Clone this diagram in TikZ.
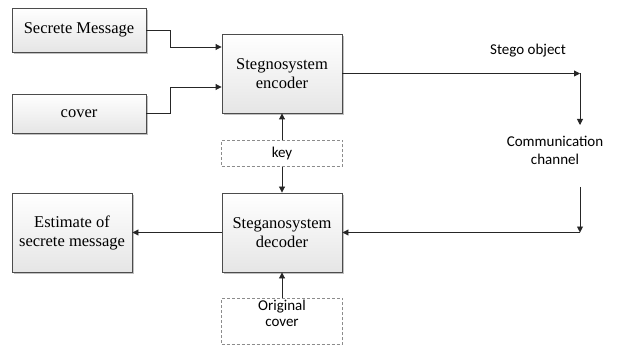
\documentclass[tikz,border=0pt]{standalone}
\usepackage{fontspec}
\setmainfont{Liberation Serif}
\newfontfamily\labelfont{Carlito}
\usetikzlibrary{shadows,arrows.meta}
\begin{document}
\begin{tikzpicture}[x=1pt,y=-1pt,
  block/.style={draw=black!70, line width=0.9pt, top color=white, bottom color=black!10,
    drop shadow={shadow xshift=2pt, shadow yshift=-2pt, fill=black!35, opacity=0.7},
    align=center, font=\fontsize{16.5}{19}\selectfont, inner sep=0pt},
  dashbox/.style={draw=black!45, line width=0.9pt, dash pattern=on 3pt off 2pt,
    align=center, font=\labelfont\fontsize{15}{17}\selectfont, inner sep=0pt},
  tag/.style={align=center, font=\labelfont\fontsize{15}{18}\selectfont, inner sep=0pt},
  link/.style={draw=black!85, line width=0.9pt, -{Triangle[length=6pt,width=6pt]}},
  plain/.style={draw=black!85, line width=0.9pt}]
\useasboundingbox (0,0) rectangle (620,347);
% source boxes
\node[block, minimum width=134pt, minimum height=44pt] (msg) at (79,30) {Secrete Message};
\node[block, minimum width=134pt, minimum height=39pt] (cov) at (79,113.5) {cover};
% encoder / decoder
\node[block, minimum width=120pt, minimum height=79pt] (enc) at (282,73.5) {Stegnosystem\\encoder};
\node[block, minimum width=120pt, minimum height=79pt] (dec) at (282,232.5) {Steganosystem\\decoder};
\node[block, minimum width=120pt, minimum height=79pt] (est) at (72,232.5) {Estimate of\\secrete message};
% dashed inputs
\node[dashbox, minimum width=121pt, minimum height=26pt] (key) at (282,153.5) {key};
\node[dashbox, minimum width=121pt, minimum height=46pt, anchor=north] (orig) at (282,298) {\raisebox{3pt}[0pt][0pt]{\begin{tabular}{@{}c@{}}Original\\[-1pt]cover\end{tabular}}};
% channel labels
\node[tag] (stego) at (528,51) {Stego object};
\node[tag] (chan) at (555,150) {Communication\\channel};
\coordinate (c1) at (580,73.5);
\coordinate (c2) at (580,232.5);
% connectors
\draw[link] (msg.east) -| (170,47) -- (enc.west |- 0,47);
\draw[link] (cov.east) -| (170,87) -- (enc.west |- 0,87);
\draw[link] (key.north) -- (enc.south);
\draw[link] (key.south) -- (dec.north);
\draw[link] (orig.north) -- (dec.south);
\draw[link] (enc.east |- c1) -- (c1);
\draw[link] (c1) -- (580,125);
\draw[link] (580,187) -- (c2);
\draw[link] (c2) -- (dec.east |- c2);
\draw[link] (dec.west) -- (est.east);
\end{tikzpicture}
\end{document}
